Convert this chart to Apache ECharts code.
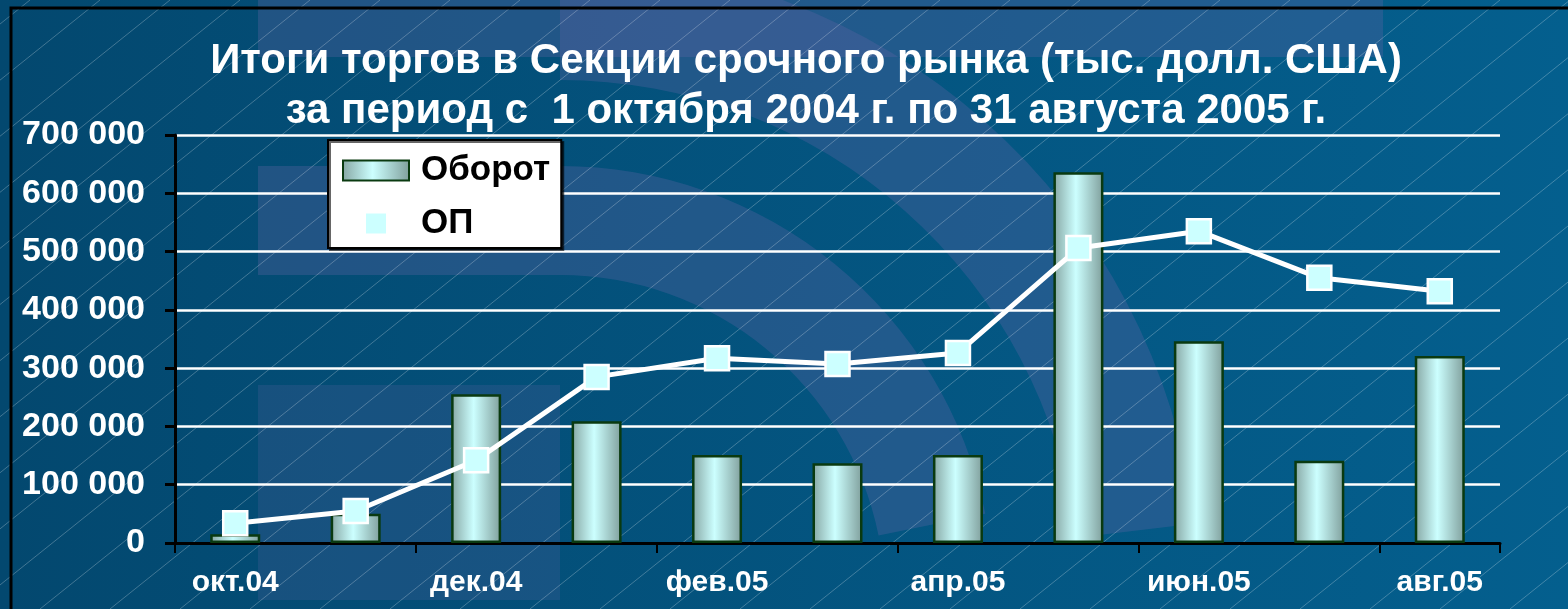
<!DOCTYPE html>
<html>
<head>
<meta charset="utf-8">
<script src="https://cdn.jsdelivr.net/npm/echarts@6/dist/echarts.min.js"></script>
<style>
  html, body { margin: 0; padding: 0; }
  #chart { width: 1568px; height: 609px; }
</style>
</head>
<body>
<div id="chart"></div>
<script>
// месяцы
const months = ['окт.04', 'ноя.04', 'дек.04', 'янв.05', 'фев.05', 'мар.05', 'апр.05', 'май.05', 'июн.05', 'июл.05', 'авг.05']
// Оборот, тыс. долл. США
const turnover = [15000, 50000, 255000, 209000, 151000, 137000, 151000, 636000, 346000, 141000, 321000]
// ОП
const openPos = [34000, 55000, 142000, 285000, 317000, 307000, 326000, 506000, 535000, 455000, 432000]
const yTicks = { min: 0, max: 700000, step: 100000 }

const font = 'Arial, "Liberation Sans", sans-serif'

let myChart = echarts.init(document.getElementById('chart'))

// фоновые декоративные элементы (косые линии, светлые полосы)
const deco = []
const shade = 'rgba(95,100,165,0.33)'
deco.push({ type: 'rect', shape: { x: 258, y: 0, width: 1125, height: 57 }, style: { fill: shade }, z: -10, silent: true })
deco.push({ type: 'sector', shape: { cx: 560, cy: 600, r0: 520, r: 640, startAngle: -Math.PI / 2, endAngle: -0.12 }, style: { fill: shade }, z: -10, silent: true })
deco.push({ type: 'rect', shape: { x: 258, y: 166, width: 302, height: 109 }, style: { fill: shade }, z: -10, silent: true })
deco.push({ type: 'sector', shape: { cx: 560, cy: 600, r0: 325, r: 434, startAngle: -Math.PI / 2, endAngle: -0.2 }, style: { fill: shade }, z: -10, silent: true })
deco.push({ type: 'rect', shape: { x: 258, y: 385, width: 302, height: 215 }, style: { fill: 'rgba(95,100,165,0.22)' }, z: -10, silent: true })
for (let x0 = -800; x0 < 1600; x0 += 70) {
  deco.push({
    type: 'line',
    shape: { x1: x0, y1: 609, x2: x0 + 760, y2: 0 },
    style: { stroke: 'rgba(255,255,255,0.25)', lineWidth: 1 },
    z: -9, silent: true
  })
}
// рамка
deco.push({ type: 'polyline', shape: { points: [[11, 609], [11, 8], [1568, 8]] }, style: { stroke: '#000', lineWidth: 3, fill: null }, z: -8, silent: true })

let option = {
  backgroundColor: new echarts.graphic.LinearGradient(0, 0, 1, 0, [
    { offset: 0, color: '#03486f' },
    { offset: 1, color: '#045f8e' }
  ]),
  graphic: deco,
  title: {
    text: 'Итоги торгов в Секции срочного рынка (тыс. долл. США)\nза период с  1 октября 2004 г. по 31 августа 2005 г.',
    left: 801,
    textAlign: 'center',
    top: 31,
    textStyle: {
      color: '#fff',
      fontSize: 42,
      fontWeight: 'bold',
      fontFamily: font,
      lineHeight: 50
    }
  },
  legend: {
    orient: 'vertical',
    left: 328,
    top: 140,
    padding: [13, 11, 7, 14],
    itemGap: 18,
    itemWidth: 66,
    itemHeight: 20,
    backgroundColor: '#fff',
    borderColor: '#000',
    borderWidth: 2,
    shadowColor: 'rgba(0,0,0,0.6)',
    shadowOffsetX: 2,
    shadowOffsetY: 2,
    shadowBlur: 0,
    textStyle: {
      color: '#000',
      fontSize: 35,
      fontWeight: 'bold',
      fontFamily: font,
      lineHeight: 34,
      padding: [0, 0, 0, 7]
    },
    data: [
      { name: 'Оборот', icon: 'rect' },
      { name: 'ОП', icon: 'path://M0,0h10v10h-10z', itemStyle: { color: '#ccffff', borderWidth: 0 }, lineStyle: { opacity: 0 } }
    ]
  },
  grid: {
    left: 175,
    right: 68,
    top: 135,
    bottom: 66
  },
  xAxis: {
    type: 'category',
    data: months,
    boundaryGap: true,
    axisLine: {
      lineStyle: { color: '#000', width: 3 }
    },
    axisTick: {
      show: true,
      interval: 1,
      length: 10,
      lineStyle: { color: '#000', width: 2 }
    },
    axisLabel: {
      interval: 1,
      margin: 25,
      color: '#fff',
      fontSize: 30,
      fontWeight: 'bold',
      fontFamily: font
    }
  },
  yAxis: {
    type: 'value',
    min: yTicks.min,
    max: yTicks.max,
    interval: yTicks.step,
    axisLine: {
      show: true,
      lineStyle: { color: '#000', width: 3 }
    },
    axisTick: {
      show: true,
      length: 10,
      lineStyle: { color: '#000', width: 3 }
    },
    splitLine: {
      lineStyle: { color: '#fff', width: 2.5 }
    },
    axisLabel: {
      margin: 30,
      color: '#fff',
      fontSize: 34,
      fontWeight: 'bold',
      fontFamily: font,
      formatter: (v) => String(v).replace(/\B(?=(\d{3})+(?!\d))/g, ' ')
    }
  },
  series: [
    {
      name: 'Оборот',
      type: 'bar',
      barWidth: 50,
      data: turnover,
      itemStyle: {
        color: new echarts.graphic.LinearGradient(0, 0, 1, 0, [
          { offset: 0, color: '#86a6a3' },
          { offset: 0.45, color: '#ccffff' },
          { offset: 1, color: '#7f9e9b' }
        ]),
        borderColor: '#0a3a10',
        borderWidth: 2.5
      },
      z: 2
    },
    {
      name: 'ОП',
      type: 'line',
      data: openPos,
      symbol: 'rect',
      symbolSize: 24,
      lineStyle: { color: '#fff', width: 5 },
      itemStyle: {
        color: '#ccffff',
        borderColor: '#fff',
        borderWidth: 2.5
      },
      z: 3
    }
  ]
}
myChart.setOption(option)
</script>
</body>
</html>
